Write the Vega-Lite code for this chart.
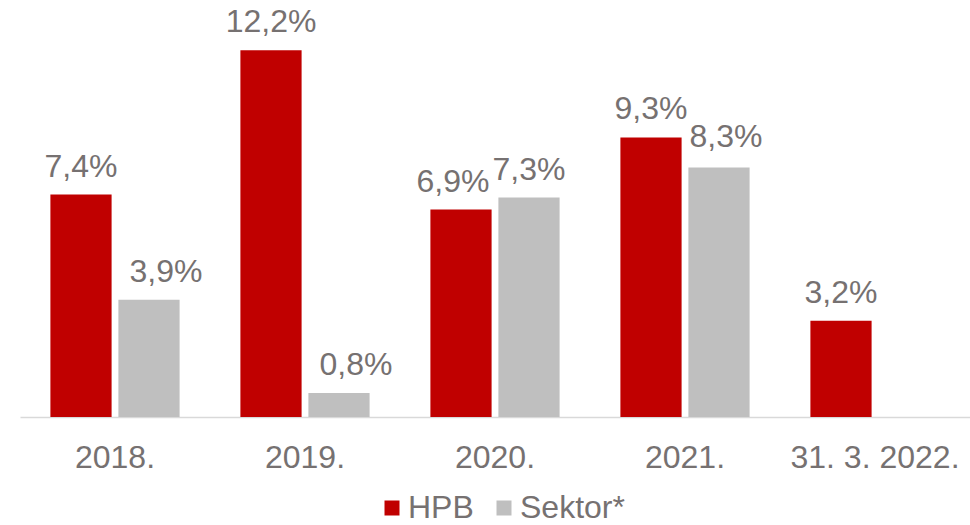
{
  "$schema": "https://vega.github.io/schema/vega-lite/v6.json",
  "autosize": "none",
  "width": 950,
  "height": 417,
  "padding": {"left": 20, "top": 0, "right": 0, "bottom": 108},
  "background": "white",
  "config": {
    "view": {"stroke": null},
    "font": "Liberation Sans",
    "text": {"baseline": "alphabetic", "dy": -18, "fontSize": 32, "color": "#767171"}
  },
  "data": {
    "values": [
      {"period": "2018.", "series": "HPB", "value": 7.4},
      {"period": "2018.", "series": "Sektor*", "value": 3.9},
      {"period": "2019.", "series": "HPB", "value": 12.2},
      {"period": "2019.", "series": "Sektor*", "value": 0.8},
      {"period": "2020.", "series": "HPB", "value": 6.9},
      {"period": "2020.", "series": "Sektor*", "value": 7.3},
      {"period": "2021.", "series": "HPB", "value": 9.3},
      {"period": "2021.", "series": "Sektor*", "value": 8.3},
      {"period": "31. 3. 2022.", "series": "HPB", "value": 3.2}
    ]
  },
  "transform": [
    {"calculate": "replace(format(datum.value, '.1f'), '.', ',') + '%'", "as": "label"}
  ],
  "encoding": {
    "x": {
      "field": "period",
      "type": "nominal",
      "sort": ["2018.", "2019.", "2020.", "2021.", "31. 3. 2022."],
      "scale": {"paddingInner": 0.32, "paddingOuter": 0.16},
      "axis": {
        "title": null,
        "labelAngle": 0,
        "labelFontSize": 32,
        "labelColor": "#767171",
        "labelPadding": 25,
        "ticks": false,
        "domainColor": "#D9D9D9",
        "domainWidth": 1.5,
        "grid": false
      }
    },
    "xOffset": {
      "field": "series",
      "type": "nominal",
      "scale": {"domain": ["HPB", "Sektor*"], "paddingInner": 0.1, "paddingOuter": 0}
    },
    "y": {
      "field": "value",
      "type": "quantitative",
      "scale": {"domain": [0, 13.87], "nice": false, "zero": true},
      "axis": null
    },
    "text": {"field": "label", "type": "nominal"}
  },
  "layer": [
    {
      "mark": {"type": "bar"},
      "encoding": {
        "color": {
          "field": "series",
          "type": "nominal",
          "scale": {"domain": ["HPB", "Sektor*"], "range": ["#C00000", "#BFBFBF"]},
          "legend": {
            "title": null,
            "orient": "none",
            "direction": "horizontal",
            "legendX": 356,
            "legendY": 492,
            "padding": 0,
            "symbolType": "square",
            "symbolSize": 225,
            "symbolStrokeWidth": 0,
            "symbolOpacity": 1,
            "labelFontSize": 32,
            "labelColor": "#767171",
            "labelOffset": 0,
            "columnPadding": 14
          }
        }
      }
    },
    {
      "transform": [
        {"filter": "!((datum.series === 'Sektor*' && (datum.period === '2018.' || datum.period === '2019.' || datum.period === '2021.')) || (datum.series === 'HPB' && datum.period === '2020.'))"}
      ],
      "mark": {"type": "text"}
    },
    {
      "transform": [
        {"filter": "datum.series === 'Sektor*' && (datum.period === '2018.' || datum.period === '2019.')"}
      ],
      "mark": {"type": "text", "dx": 17}
    },
    {
      "transform": [
        {"filter": "datum.series === 'Sektor*' && datum.period === '2021.'"}
      ],
      "mark": {"type": "text", "dx": 7, "dy": -20}
    },
    {
      "transform": [
        {"filter": "datum.series === 'HPB' && datum.period === '2020.'"}
      ],
      "mark": {"type": "text", "dx": -8}
    }
  ]
}
